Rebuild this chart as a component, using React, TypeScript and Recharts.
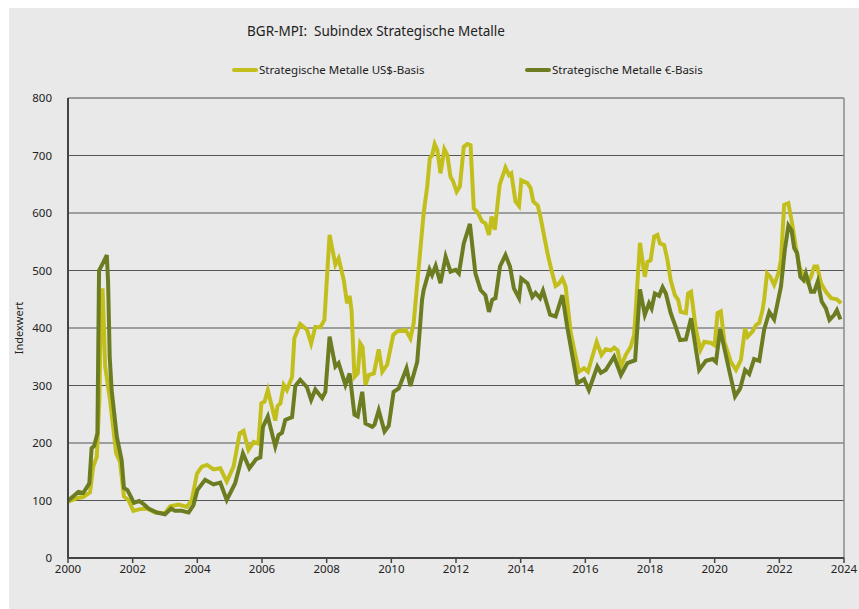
import React from "react"
import { LineChart, Line, XAxis, YAxis, CartesianGrid, ReferenceLine } from "recharts"

// US$-Basis (decimal year / index value)
const usdYears = [
  2000.01, 2000.27, 2000.47, 2000.68, 2000.78, 2000.89, 2000.97, 2001.02, 2001.07, 2001.15, 2001.3, 2001.49, 2001.61,
  2001.73, 2001.87, 2002.02, 2002.23, 2002.44, 2002.69, 2003.0, 2003.16, 2003.42, 2003.68, 2003.83, 2003.99, 2004.14,
  2004.3, 2004.5, 2004.71, 2004.91, 2005.12, 2005.31, 2005.43, 2005.58, 2005.74, 2005.89, 2005.98, 2006.08, 2006.18,
  2006.41, 2006.48, 2006.57, 2006.67, 2006.77, 2006.93, 2007.0, 2007.18, 2007.39, 2007.52, 2007.65, 2007.8, 2007.93,
  2008.09, 2008.27, 2008.37, 2008.53, 2008.63, 2008.71, 2008.77, 2008.86, 2008.96, 2009.04, 2009.11, 2009.2, 2009.3,
  2009.46, 2009.61, 2009.72, 2009.87, 2010.06, 2010.18, 2010.44, 2010.59, 2010.69, 2010.85, 2011.0, 2011.11, 2011.19,
  2011.26, 2011.34, 2011.42, 2011.52, 2011.64, 2011.73, 2011.83, 2011.91, 2012.02, 2012.12, 2012.24, 2012.35, 2012.45,
  2012.55, 2012.66, 2012.81, 2012.91, 2013.02, 2013.1, 2013.2, 2013.35, 2013.53, 2013.64, 2013.71, 2013.84, 2013.95,
  2014.02, 2014.21, 2014.31, 2014.39, 2014.53, 2014.62, 2014.83, 2014.95, 2015.08, 2015.18, 2015.29, 2015.39, 2015.55,
  2015.8, 2015.96, 2016.08, 2016.35, 2016.5, 2016.63, 2016.79, 2016.89, 2017.0, 2017.1, 2017.25, 2017.4, 2017.51,
  2017.69, 2017.84, 2017.92, 2018.02, 2018.13, 2018.23, 2018.31, 2018.44, 2018.54, 2018.64, 2018.77, 2018.87, 2018.95,
  2019.11, 2019.18, 2019.27, 2019.42, 2019.56, 2019.68, 2019.89, 2020.0, 2020.09, 2020.19, 2020.3, 2020.5, 2020.66,
  2020.81, 2020.94, 2021.02, 2021.17, 2021.28, 2021.38, 2021.48, 2021.53, 2021.62, 2021.72, 2021.84, 2021.97, 2022.05,
  2022.15, 2022.28, 2022.41, 2022.51, 2022.62, 2022.75, 2022.88, 2022.98, 2023.08, 2023.17, 2023.29, 2023.44, 2023.6,
  2023.78, 2023.91,
]
const usdValues = [
  98, 104, 106, 114, 159, 176, 275, 440, 469, 333, 275, 182, 167,
  107, 101, 82, 85, 86, 79, 78, 90, 93, 89, 101, 147, 159,
  162, 154, 156, 133, 159, 217, 221, 188, 202, 199, 269, 272, 292,
  239, 264, 269, 301, 292, 315, 382, 407, 397, 373, 402, 401, 414,
  562, 510, 521, 483, 443, 456, 430, 315, 321, 373, 367, 301, 318,
  321, 363, 324, 336, 388, 394, 397, 382, 408, 507, 600, 646, 695,
  700, 720, 710, 669, 711, 701, 663, 655, 637, 646, 715, 720, 718,
  608, 602, 585, 582, 562, 594, 571, 649, 679, 666, 669, 620, 612,
  657, 652, 643, 620, 613, 591, 530, 501, 473, 477, 486, 472, 391,
  324, 330, 324, 376, 353, 363, 361, 366, 361, 333, 353, 367, 388,
  548, 489, 515, 518, 559, 562, 547, 544, 518, 483, 457, 449, 428,
  426, 460, 463, 397, 362, 376, 374, 370, 426, 429, 376, 341, 327,
  344, 399, 385, 394, 405, 409, 431, 449, 495, 489, 475, 495, 518,
  614, 617, 577, 541, 507, 489, 478, 489, 507, 507, 478, 463, 452,
  450, 443,
]

// €-Basis
const eurYears = [
  2000.01, 2000.32, 2000.47, 2000.66, 2000.73, 2000.81, 2000.91, 2000.96, 2001.1, 2001.2, 2001.24, 2001.29, 2001.35,
  2001.51, 2001.66, 2001.73, 2001.84, 2002.04, 2002.2, 2002.33, 2002.49, 2002.75, 2003.0, 2003.19, 2003.31, 2003.52,
  2003.73, 2003.88, 2004.0, 2004.24, 2004.5, 2004.71, 2004.91, 2005.17, 2005.41, 2005.61, 2005.82, 2005.95, 2006.03,
  2006.18, 2006.41, 2006.51, 2006.62, 2006.72, 2006.93, 2007.03, 2007.18, 2007.39, 2007.52, 2007.65, 2007.86, 2007.96,
  2008.09, 2008.27, 2008.37, 2008.58, 2008.71, 2008.86, 2008.96, 2009.1, 2009.2, 2009.41, 2009.48, 2009.61, 2009.79,
  2009.92, 2010.07, 2010.23, 2010.47, 2010.59, 2010.8, 2010.88, 2010.95, 2011.0, 2011.18, 2011.26, 2011.37, 2011.52,
  2011.68, 2011.83, 2011.99, 2012.09, 2012.24, 2012.43, 2012.6, 2012.76, 2012.91, 2013.02, 2013.12, 2013.22, 2013.36,
  2013.53, 2013.67, 2013.79, 2013.95, 2014.02, 2014.21, 2014.36, 2014.46, 2014.6, 2014.69, 2014.91, 2015.08, 2015.29,
  2015.44, 2015.75, 2015.96, 2016.11, 2016.37, 2016.48, 2016.63, 2016.89, 2017.1, 2017.3, 2017.54, 2017.69, 2017.84,
  2017.97, 2018.05, 2018.15, 2018.28, 2018.39, 2018.49, 2018.64, 2018.8, 2018.93, 2019.11, 2019.27, 2019.52, 2019.73,
  2019.94, 2020.04, 2020.17, 2020.4, 2020.63, 2020.79, 2020.94, 2021.07, 2021.22, 2021.38, 2021.53, 2021.69, 2021.84,
  2022.05, 2022.17, 2022.28, 2022.38, 2022.46, 2022.55, 2022.65, 2022.75, 2022.82, 2022.98, 2023.08, 2023.19, 2023.31,
  2023.44, 2023.55, 2023.7, 2023.78, 2023.89,
]
const eurValues = [
  100, 115, 113, 130, 191, 195, 217, 500, 515, 527, 480, 350, 292,
  211, 170, 122, 118, 96, 99, 94, 86, 79, 76, 86, 82, 82,
  79, 92, 118, 136, 128, 131, 101, 130, 182, 156, 172, 175, 228,
  246, 194, 214, 218, 240, 245, 299, 310, 297, 275, 293, 278, 289,
  385, 333, 339, 301, 321, 249, 246, 289, 234, 228, 232, 257, 220,
  230, 289, 295, 330, 299, 341, 397, 449, 466, 502, 492, 508, 478,
  524, 498, 501, 495, 547, 581, 495, 466, 457, 428, 449, 452, 507,
  527, 507, 469, 452, 486, 478, 454, 461, 452, 465, 423, 420, 457,
  402, 304, 311, 292, 333, 322, 327, 350, 318, 339, 344, 467, 423,
  443, 434, 460, 456, 471, 460, 426, 401, 379, 380, 417, 327, 343,
  346, 341, 398, 339, 281, 295, 327, 320, 346, 343, 397, 428, 415,
  472, 536, 578, 569, 539, 530, 489, 483, 495, 463, 463, 481, 446,
  434, 414, 423, 431, 415,
]

const yearTicks = [2000, 2002, 2004, 2006, 2008, 2010, 2012, 2014, 2016, 2018, 2020, 2022, 2024]
const valueTicks = [0, 100, 200, 300, 400, 500, 600, 700, 800]

const usdColor = "#c2bf1c"
const eurColor = "#6b7d20"

const usdData = usdYears.map((x, i) => ({ x, v: usdValues[i] }))
const eurData = eurYears.map((x, i) => ({ x, v: eurValues[i] }))

const font = "'Noto Sans', 'Open Sans', sans-serif"

const LegendItem = ({ color, label, left }: { color: string; label: string; left: number }) => (
  <div style={{ position: "absolute", left, top: 54, display: "flex", alignItems: "center", fontSize: 11.5, color: "#222" }}>
    <span style={{ display: "inline-block", width: 26, height: 4, borderRadius: 2, background: color, marginRight: 1 }} />
    <span>{label}</span>
  </div>
)

export default function App() {
  // fixed so nothing spills into a scroll area
  return (
    <div style={{ position: "fixed", left: 9, top: 8, width: 850, height: 601, background: "#e9e9e9", fontFamily: font }}>
      <div style={{ position: "absolute", left: 0, width: 734, top: 14, textAlign: "center", fontSize: 13.5, color: "#222" }}>
        BGR-MPI:&nbsp; Subindex Strategische Metalle
      </div>
      <LegendItem color={usdColor} label="Strategische Metalle US$-Basis" left={223} />
      <LegendItem color={eurColor} label="Strategische Metalle €-Basis" left={516} />
      <div
        style={{
          position: "absolute",
          left: -1,
          top: 320,
          transform: "translate(0, -50%) rotate(-90deg)",
          transformOrigin: "center",
          fontSize: 11,
          color: "#222",
          width: 20,
          whiteSpace: "nowrap",
          display: "flex",
          justifyContent: "center",
        }}
      >
        Indexwert
      </div>
      <LineChart width={850} height={601} margin={{ top: 90, right: 15, bottom: 21, left: 0 }}>
        <CartesianGrid vertical={false} stroke="#555" strokeWidth={1.2} />
        <XAxis
          type="number"
          dataKey="x"
          domain={[2000, 2024]}
          ticks={yearTicks}
          interval={0}
          allowDuplicatedCategory={false}
          height={30}
          axisLine={{ stroke: "#444", strokeWidth: 2 }}
          tickLine={{ stroke: "#444", strokeWidth: 1.5 }}
          tickSize={5}
          tick={{ fill: "#222", fontSize: 11.5, fontFamily: font }}
        />
        <YAxis
          type="number"
          domain={[0, 800]}
          ticks={valueTicks}
          width={59}
          axisLine={{ stroke: "#444", strokeWidth: 2 }}
          tickLine={false}
          tickMargin={10}
          tick={{ fill: "#222", fontSize: 11.5, fontFamily: font }}
        />
        <ReferenceLine y={800} stroke="#9a9a9a" strokeWidth={2} />
        <ReferenceLine x={2024} stroke="#8a8a8a" strokeWidth={1.5} />
        <Line data={usdData} dataKey="v" stroke={usdColor} strokeWidth={4} dot={false} type="linear" isAnimationActive={false} />
        <Line data={eurData} dataKey="v" stroke={eurColor} strokeWidth={4} dot={false} type="linear" isAnimationActive={false} />
      </LineChart>
    </div>
  )
}
